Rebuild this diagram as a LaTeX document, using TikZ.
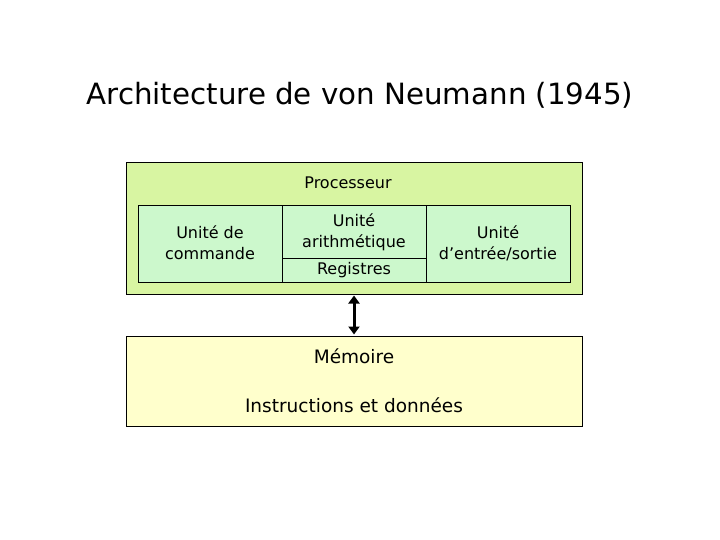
\documentclass[tikz,border=0pt]{standalone}
\usepackage{fontspec}
\setmainfont{DejaVu Sans}
\usetikzlibrary{arrows.meta}
\definecolor{procgreen}{HTML}{D8F5A2}
\definecolor{unitgreen}{HTML}{CCF8CC}
\definecolor{memyellow}{HTML}{FFFFCC}
\tikzset{
  box/.style={draw=black, line width=0.8pt},
  lbl/.style={inner sep=0pt, align=center, font=\fontsize{16}{21}\selectfont},
  biglbl/.style={inner sep=0pt, align=center, font=\fontsize{18.5}{22}\selectfont},
}
\begin{document}
\begin{tikzpicture}[x=1pt, y=-1pt]
\useasboundingbox (0,0) rectangle (720,540);
\fill[white] (0,0) rectangle (720,540);
\node[inner sep=0pt, font=\fontsize{29.3}{34}\selectfont] (title) at (360,95) {Architecture de von Neumann (1945)};
% processor
\draw[box, fill=procgreen] (126,162) rectangle (582,294);
\node[lbl] (proc) at (348,183) {Processeur};
\draw[box, fill=unitgreen] (138,205) rectangle (282,282);
\draw[box, fill=unitgreen] (282,205) rectangle (426,282);
\draw[box, fill=unitgreen] (426,205) rectangle (570,282);
\draw[box] (282,258) -- (426,258);
\node[lbl] (cmd) at (210,243) {Unité de\\commande};
\node[lbl] (alu) at (354,232) {Unité\\arithmétique};
\node[lbl] (reg) at (354,270) {Registres};
\node[lbl] (io) at (498,243) {Unité\\d’entrée/sortie};
\coordinate (ptop) at (354,294);
% memory
\draw[box, fill=memyellow] (126,336) rectangle (582,426);
\node[biglbl] (mem) at (354,356) {Mémoire};
\node[biglbl] (instr) at (354,405) {Instructions et données};
\coordinate (mtop) at (354,336);
\draw[line width=3pt, shorten <=1.5pt, shorten >=1.5pt, {Triangle[length=8pt,width=11pt]}-{Triangle[length=8pt,width=11pt]}] (ptop) -- (mtop);
\end{tikzpicture}
\end{document}
